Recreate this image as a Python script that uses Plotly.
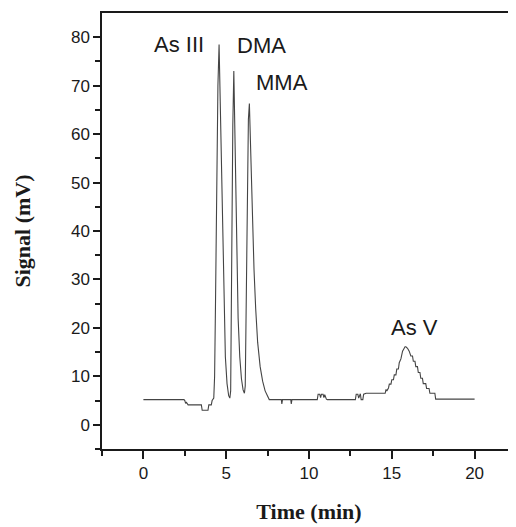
import plotly.graph_objects as go

time_min = [0.0, 2.45, 2.5, 2.55, 2.6, 2.7, 3.5, 3.55, 3.9, 3.95, 4.1, 4.15, 4.25,
            4.3, 4.35, 4.4, 4.45, 4.5, 4.57, 4.63, 4.7, 4.78, 4.86, 4.95, 5.05, 5.15, 5.22,
            5.27, 5.3, 5.34, 5.4, 5.46, 5.52, 5.58, 5.65, 5.72, 5.82, 5.92, 6.02, 6.1, 6.15,
            6.2, 6.24, 6.29, 6.34, 6.40, 6.46, 6.53, 6.6, 6.68, 6.78, 6.9, 7.05, 7.2, 7.35, 7.5, 7.6,
            8.33, 8.36, 8.4, 8.9, 8.93, 8.97,
            10.5, 10.55, 10.65, 10.7, 10.75, 10.85, 10.9, 10.95, 11.05, 11.1,
            12.8, 12.85, 12.95, 13.0, 13.1, 13.15, 13.25, 13.3, 13.45, 13.5,
            14.6, 14.65, 14.7, 14.8, 14.85, 14.95, 15.0, 15.1, 15.15, 15.25, 15.3, 15.4, 15.45,
            15.55, 15.65, 15.8, 15.85, 15.95, 16.05, 16.15, 16.25, 16.3, 16.4, 16.45, 16.55,
            16.6, 16.7, 16.75, 16.85, 16.9, 17.05, 17.1, 17.25, 17.3, 17.6, 17.65, 20.0]

signal_mv = [5.2, 5.2, 5.0, 4.4, 4.6, 4.1, 4.1, 3.0, 3.0, 4.1, 4.1, 5.0, 5.5,
             10, 24, 40, 57, 70, 78.5, 68, 52, 38, 24, 14, 8.5, 6.0, 5.5,
             7, 20, 40, 62, 73, 60, 45, 32, 22, 14, 9.5, 7.2, 6.5, 8,
             22, 40, 56, 63, 66.3, 58, 48, 40, 32, 24, 17, 12, 9, 7, 5.8, 5.2,
             5.2, 4.3, 5.2, 5.2, 4.3, 5.2,
             5.2, 6.3, 6.3, 5.6, 6.3, 6.3, 5.6, 6.2, 5.3, 5.2,
             5.2, 6.3, 6.3, 5.5, 6.4, 5.2, 5.2, 6.3, 6.5, 6.5,
             6.5, 7.3, 7.0, 7.6, 8.4, 8.4, 9.3, 9.3, 10.3, 10.3, 11.5, 11.5, 12.8,
             13.6, 15.2, 16.1, 16.1, 15.8, 15.2, 14.2, 14.2, 13.1, 13.1, 12.0, 12.0,
             10.8, 10.8, 9.6, 9.6, 8.5, 8.5, 7.5, 7.5, 6.5, 6.5, 5.3, 5.3]

peak_labels = ["As III", "DMA", "MMA", "As V"]
label_x = [2.15, 7.15, 8.35, 16.4]
label_y = [78.4, 78.2, 70.7, 20.0]

fig = go.Figure()
fig.add_trace(go.Scatter(x=time_min, y=signal_mv, mode="lines",
                         line=dict(color="#444444", width=1.1),
                         showlegend=False, hoverinfo="skip"))

for t, xx, yy in zip(peak_labels, label_x, label_y):
    fig.add_annotation(x=xx, y=yy, text=t, showarrow=False,
                       font=dict(family="Liberation Sans, Arial", size=22, color="#1a1a1a"))

# the page body has an 8px margin, so the figure is 8px smaller than the window
fig.update_layout(
    width=508, height=519,
    margin=dict(l=94, r=0, t=5, b=78),
    paper_bgcolor="white", plot_bgcolor="white",
    font=dict(family="Liberation Sans, Arial", size=17, color="#1a1a1a"),
)
fig.update_xaxes(
    range=[-2.5, 22.5], tickmode="array", tickvals=[0, 5, 10, 15, 20],
    ticks="outside", ticklen=8, tickwidth=1.5, tickcolor="#1a1a1a",
    minor=dict(tickmode="array", tickvals=[-2.5, 2.5, 7.5, 12.5, 17.5, 22.5],
               ticks="outside", ticklen=5, tickwidth=1.5, tickcolor="#1a1a1a"),
    showline=True, linecolor="#1a1a1a", linewidth=1.5, mirror=True,
    showgrid=False, zeroline=False,
    title=dict(text="<b>Time (min)</b>", standoff=21,
               font=dict(family="Liberation Serif, Times New Roman", size=22, color="#1a1a1a")),
)
fig.update_yaxes(
    range=[-5, 85], tickmode="array", tickvals=[0, 10, 20, 30, 40, 50, 60, 70, 80],
    ticks="outside", ticklen=7, tickwidth=1.5, tickcolor="#1a1a1a",
    minor=dict(tickmode="array", tickvals=[-5, 5, 15, 25, 35, 45, 55, 65, 75],
               ticks="outside", ticklen=5, tickwidth=1.5, tickcolor="#1a1a1a"),
    showline=True, linecolor="#1a1a1a", linewidth=1.5, mirror=False,
    showgrid=False, zeroline=False,
    title=dict(text="<b>Signal (mV)</b>", standoff=34,
               font=dict(family="Liberation Serif, Times New Roman", size=22, color="#1a1a1a")),
)

fig.write_html("out.html")
